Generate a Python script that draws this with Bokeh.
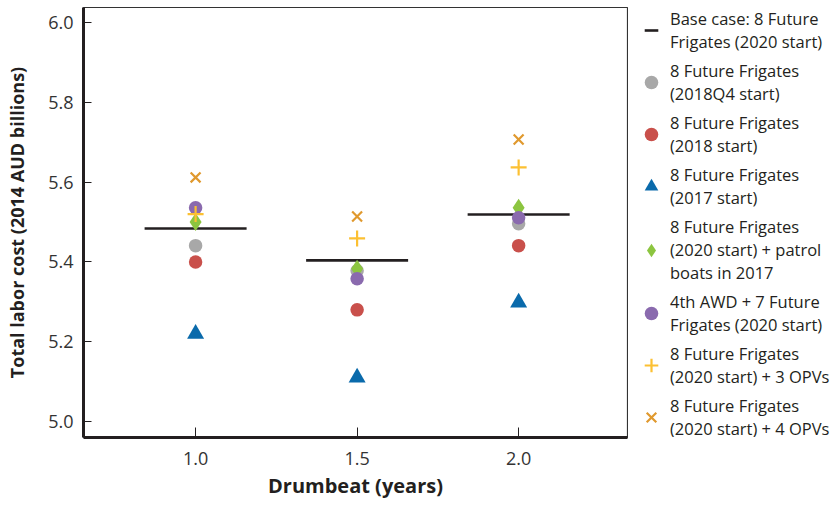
from bokeh.plotting import figure
from bokeh.layouts import row
from bokeh.models import Range1d, Legend, LegendItem, FixedTicker, PrintfTickFormatter
from bokeh.embed import file_html
from bokeh.resources import INLINE

drumbeat = [1.0, 1.5, 2.0]
base_case = [5.484, 5.404, 5.519]
ff_2018q4 = [5.441, 5.378, 5.496]
ff_2018 = [5.400, 5.280, 5.441]
ff_2017 = [5.220, 5.110, 5.298]
ff_patrol = [5.500, 5.383, 5.536]
awd_7ff = [5.536, 5.358, 5.511]
ff_3opv = [5.520, 5.459, 5.637]
ff_4opv = [5.612, 5.514, 5.707]

labels = [
    "Base case: 8 Future\nFrigates (2020 start)",
    "8 Future Frigates\n(2018Q4 start)",
    "8 Future Frigates\n(2018 start)",
    "8 Future Frigates\n(2017 start)",
    "8 Future Frigates\n(2020 start) + patrol\nboats in 2017",
    "4th AWD + 7 Future\nFrigates (2020 start)",
    "8 Future Frigates\n(2020 start) + 3 OPVs",
    "8 Future Frigates\n(2020 start) + 4 OPVs",
]
y_ticks = [5.0, 5.2, 5.4, 5.6, 5.8, 6.0]
x_ticks = [1.0, 1.5, 2.0]

FONT = "Open Sans"
TXT = "#231f20"

styles = [
    dict(marker="dash", line_color="#231f20", line_width=2.6),
    dict(marker="circle", fill_color="#a8a8a8", line_color=None),
    dict(marker="circle", fill_color="#c9504b", line_color=None),
    dict(marker="triangle", fill_color="#0a6aab", line_color=None),
    dict(marker="diamond", fill_color="#8cc540", line_color=None),
    dict(marker="circle", fill_color="#8a6aae", line_color=None),
    dict(marker="cross", line_color="#fcc032", line_width=2.2),
    dict(marker="x", line_color="#e0992e", line_width=2.2),
]
sizes = [102, 13.5, 13.5, 17, 18, 13.5, 16, 14]
series = [base_case, ff_2018q4, ff_2018, ff_2017, ff_patrol, awd_7ff, ff_3opv, ff_4opv]

p = figure(width=628, height=511, output_backend="svg", toolbar_location=None,
           x_range=Range1d(0.653, 2.337), y_range=Range1d(4.96, 6.038),
           min_border_left=83, min_border_right=1, min_border_top=7, min_border_bottom=74)
p.grid.visible = False
p.outline_line_color = "#333333"
p.outline_line_width = 1.2
p.background_fill_color = "white"
p.border_fill_color = "white"

for ys, st, sz in zip(series, styles, sizes):
    p.scatter(drumbeat, ys, size=sz, **st)

for ax in (p.xaxis[0], p.yaxis[0]):
    ax.axis_line_width = 3
    ax.axis_line_color = "#231f20"
    ax.major_tick_out = 0
    ax.minor_tick_in = 0
    ax.minor_tick_out = 0
    ax.major_tick_line_color = "#231f20"
    ax.major_tick_line_width = 1
    ax.major_label_text_font = FONT
    ax.major_label_text_font_size = "18px"
    ax.major_label_text_color = "#333333"
    ax.axis_label_text_font = FONT
    ax.axis_label_text_font_style = "bold"
    ax.axis_label_text_color = TXT
    ax.formatter = PrintfTickFormatter(format="%.1f")

p.yaxis[0].ticker = FixedTicker(ticks=y_ticks)
p.yaxis[0].major_tick_in = 8
p.yaxis[0].major_label_standoff = 10
p.yaxis[0].axis_label = "Total labor cost (2014 AUD billions)"
p.yaxis[0].axis_label_text_font_size = "18px"
p.yaxis[0].axis_label_standoff = 16

p.xaxis[0].ticker = FixedTicker(ticks=x_ticks)
p.xaxis[0].major_tick_in = 10
p.xaxis[0].major_label_standoff = 14
p.xaxis[0].axis_label = "Drumbeat (years)"
p.xaxis[0].axis_label_text_font_size = "20px"
p.xaxis[0].axis_label_standoff = 4

# legend panel (its renderers sit outside its visible range; only the legend shows)
lg = figure(width=212, height=511, output_backend="svg", toolbar_location=None,
            x_range=Range1d(10, 11), y_range=Range1d(10, 11),
            x_axis_location=None, y_axis_location=None,
            min_border_left=0, min_border_right=0, min_border_top=0, min_border_bottom=0)
lg.grid.visible = False
lg.outline_line_color = None
items = []
for lab, st, ys in zip(labels, styles, series):
    r = lg.scatter(drumbeat, ys, size=10, **st)
    items.append(LegendItem(label=lab, renderers=[r]))
legend = Legend(items=items, location=(6, -3))
legend.border_line_color = None
legend.background_fill_alpha = 0
legend.label_text_font = FONT
legend.label_text_font_size = "16.5px"
legend.label_text_color = TXT
legend.label_text_line_height = 1.3
legend.glyph_width = 34
legend.glyph_height = 34
legend.label_standoff = 2
legend.spacing = 6
legend.margin = 0
legend.padding = 0
legend.label_height = 20
lg.add_layout(legend, "center")

open("out.html", "w").write(file_html(row(p, lg), INLINE))
